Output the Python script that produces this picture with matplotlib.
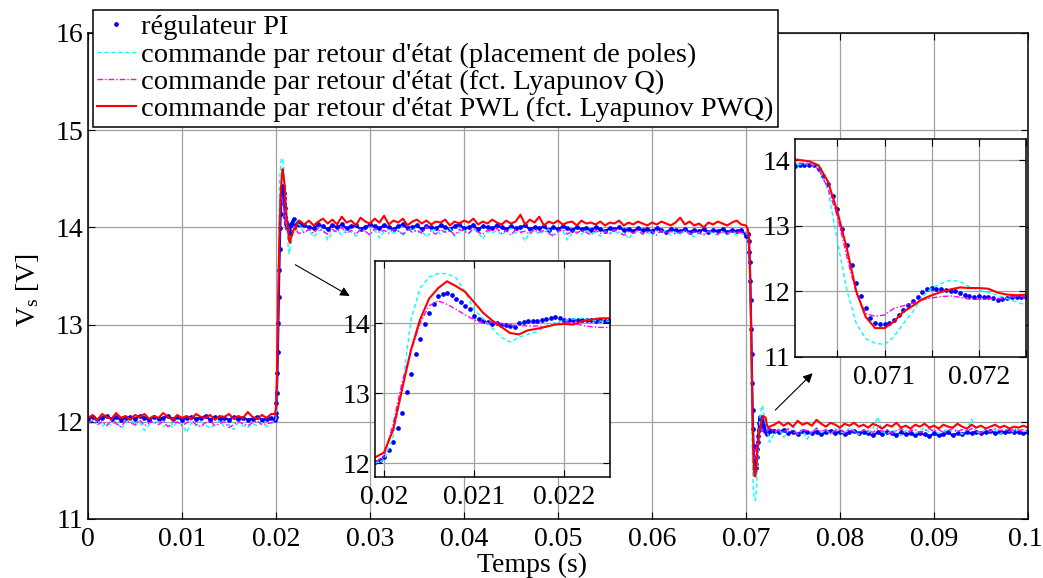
import numpy as np
import matplotlib
matplotlib.use('Agg')
import matplotlib.pyplot as plt
from matplotlib.transforms import ScaledTranslation

plt.rcParams['font.family'] = ['Liberation Serif', 'DejaVu Serif']
plt.rcParams['font.size'] = 20

# ---- data (V) ----
# steady part 0 -> 0.0195 s
pi_a = [12.03, 12.05, 12.02, 12.04, 12.06, 12.03, 12.05, 12.02, 12.04, 12.05, 12.03, 12.06, 12.04, 12.02,
        12.05, 12.03, 12.04, 12.06, 12.03, 12.05, 12.02, 12.04, 12.05, 12.03, 12.04, 12.06, 12.02, 12.05,
        12.03, 12.04, 12.02, 12.05, 12.03, 12.04, 12.02, 12.03, 12.05, 12.02, 12.03, 12.04]
pp_a = [12.00, 11.97, 12.02, 11.95, 11.99, 11.96, 12.01, 11.93, 11.98, 12.03, 11.96, 12.00, 11.91, 11.97,
        11.99, 12.01, 11.95, 11.98, 11.94, 12.00, 11.97, 11.89, 11.99, 11.96, 12.00, 11.97, 11.93, 11.98,
        12.01, 11.95, 11.97, 11.92, 11.99, 11.96, 11.94, 11.98, 11.96, 11.99, 11.95, 11.98]
lq_a = [11.99, 12.01, 11.97, 12.00, 11.96, 12.02, 11.98, 11.95, 12.01, 11.99, 11.97, 12.02, 11.96, 11.99,
        12.00, 11.97, 12.01, 11.95, 11.98, 12.00, 11.96, 11.99, 12.02, 11.97, 11.95, 11.99, 12.01, 11.96,
        11.98, 12.00, 11.94, 11.97, 12.00, 11.98, 11.96, 11.99, 12.01, 11.97, 11.98, 11.99]
pwl_a = [12.04, 12.07, 12.02, 12.08, 12.05, 12.03, 12.09, 12.04, 12.06, 12.02, 12.07, 12.05, 12.08, 12.03,
         12.06, 12.04, 12.09, 12.05, 12.02, 12.07, 12.04, 12.06, 12.03, 12.08, 12.05, 12.04, 12.07, 12.02,
         12.06, 12.05, 12.08, 12.03, 12.06, 12.04, 12.10, 12.05, 12.03, 12.07, 12.04, 12.08]

# step up, 0.0199 -> 0.0225 s (PI sampled every 50 us, others every 100 us)
pi_up = [12.02, 12.05, 12.09, 12.19, 12.30, 12.50, 12.72, 13.02, 13.28, 13.56, 13.78, 13.99, 14.14, 14.28,
         14.39, 14.42, 14.43, 14.40, 14.35, 14.30, 14.24, 14.20, 14.11, 14.06, 14.03, 14.02, 13.99, 14.00,
         13.98, 13.97, 13.96, 13.94, 14.01, 14.02, 14.03, 14.03, 14.03, 14.04, 14.06, 14.07, 14.09, 14.07,
         14.05, 14.05, 14.04, 14.04, 14.04, 14.04, 14.04, 14.03, 14.04, 14.03, 14.03]
pp_up = [12.00, 12.04, 12.38, 13.04, 14.05, 14.50, 14.66, 14.71, 14.71, 14.65, 14.45, 14.20, 14.07, 13.93,
         13.80, 13.73, 13.80, 13.84, 13.88, 13.96, 14.01, 14.04, 14.06, 14.07, 14.04, 14.03, 14.03]
lq_up = [12.01, 12.10, 12.55, 13.15, 13.60, 14.00, 14.25, 14.32, 14.27, 14.20, 14.12, 14.05, 14.00, 14.02,
         14.00, 13.97, 13.97, 13.96, 13.96, 13.95, 13.98, 14.02, 14.00, 13.97, 13.95, 13.94, 13.94]
pwl_up = [12.08, 12.15, 12.47, 13.05, 13.62, 14.05, 14.35, 14.50, 14.60, 14.53, 14.45, 14.30, 14.15, 14.04,
          13.95, 13.86, 13.84, 13.90, 13.92, 13.95, 13.98, 13.99, 13.98, 14.03, 14.05, 14.07, 14.07]

# steady part 0.023 -> 0.0695 s
pi_b = [14.02, 14.00, 13.99, 14.03, 14.01, 13.98, 14.02, 14.00, 14.03, 13.99, 14.01, 14.02, 13.98, 14.00,
        14.03, 14.01, 13.99, 14.02, 14.00, 13.98, 14.01, 14.03, 13.99, 14.00, 14.02, 13.98, 14.01, 14.00,
        13.99, 14.02, 14.00, 13.98, 14.01, 14.03, 13.99, 14.00, 14.02, 13.98, 14.01, 14.00, 13.99, 14.02,
        14.00, 13.98, 14.01, 13.99, 14.00, 14.02, 13.98, 14.00, 13.99, 14.01, 13.97, 14.00, 13.98, 14.01,
        13.99, 13.97, 14.00, 13.98, 13.99, 13.97, 14.00, 13.98, 13.96, 13.99, 13.98, 14.00, 13.97, 13.98,
        13.96, 13.99, 13.97, 13.98, 13.96, 13.99, 13.97, 13.95, 13.98, 13.97, 13.96, 13.98, 13.95, 13.97,
        13.96, 13.98, 13.95, 13.97, 13.96, 13.98, 13.95, 13.97, 13.96, 13.97]
pp_b = [13.94, 13.98, 13.90, 13.96, 13.99, 13.87, 13.95, 13.97, 13.92, 13.98, 13.95, 13.91, 13.99, 13.96,
        13.93, 13.97, 13.89, 13.96, 13.98, 13.94, 13.97, 13.92, 13.96, 14.00, 13.94, 13.97, 13.90, 13.95,
        13.98, 13.93, 13.96, 13.99, 13.91, 13.95, 13.97, 13.93, 13.98, 13.95, 13.88, 13.96, 13.94, 13.97,
        13.92, 13.96, 13.99, 13.94, 13.96, 13.86, 13.95, 13.97, 13.93, 13.96, 13.98, 13.92, 13.95, 13.97,
        13.87, 13.94, 13.96, 13.93, 13.97, 13.94, 13.95, 13.91, 13.96, 13.94, 13.97, 13.92, 13.95, 13.88,
        13.94, 13.96, 13.93, 13.95, 13.91, 13.96, 13.94, 13.97, 13.92, 13.95, 13.93, 13.96, 13.94, 13.90,
        13.95, 13.93, 13.96, 13.94, 13.92, 13.95, 13.93, 13.95, 13.92, 13.94]
lq_b = [13.95, 13.98, 13.94, 13.99, 13.96, 13.93, 13.98, 13.95, 14.00, 13.94, 13.97, 13.93, 13.98, 13.96,
        13.92, 13.99, 13.95, 13.97, 13.94, 13.98, 13.96, 13.93, 13.99, 13.95, 13.97, 13.94, 14.01, 13.96,
        13.93, 13.98, 13.95, 13.97, 13.92, 13.98, 13.96, 13.94, 13.99, 13.95, 13.93, 13.97, 13.96, 13.99,
        13.94, 13.97, 13.92, 13.98, 13.95, 13.96, 13.93, 13.98, 13.95, 13.97, 13.94, 13.91, 13.96, 13.98,
        13.93, 13.96, 13.94, 13.97, 13.95, 13.92, 13.97, 13.94, 13.96, 13.93, 13.98, 13.95, 13.92, 13.96,
        13.94, 13.97, 13.93, 13.95, 13.96, 13.92, 13.97, 13.94, 13.96, 13.93, 13.95, 13.97, 13.93, 13.96,
        13.94, 13.92, 13.96, 13.95, 13.93, 13.96, 13.94, 13.96, 13.95, 13.95]
pwl_b = [14.03, 14.07, 14.02, 14.06, 14.09, 14.04, 14.08, 14.03, 14.11, 14.05, 14.07, 14.02, 14.10, 14.06,
         14.04, 14.09, 14.05, 14.12, 14.03, 14.07, 14.05, 14.09, 14.02, 14.06, 14.08, 14.04, 14.07, 14.03,
         14.06, 14.05, 14.08, 14.02, 14.06, 14.04, 14.07, 14.05, 14.09, 14.03, 14.06, 14.04, 14.08, 14.05,
         14.03, 14.07, 14.04, 14.06, 14.13, 14.03, 14.08, 14.05, 14.11, 14.02, 14.06, 14.04, 14.07, 14.03,
         14.05, 14.06, 14.02, 14.07, 14.04, 14.05, 14.03, 14.06, 14.02, 14.05, 14.04, 14.07, 14.02, 14.05,
         14.03, 14.06, 14.04, 14.02, 14.05, 14.03, 14.06, 14.04, 14.02, 14.05, 14.10, 14.03, 14.06, 14.02,
         14.04, 14.00, 14.05, 14.03, 14.06, 14.04, 14.02, 14.05, 14.07, 14.03]

# step down, PI 0.07005 -> 0.0725 s, others 0.0700 -> 0.0725 s
pi_down = [13.91, 13.92, 13.92, 13.93, 13.93, 13.86, 13.75, 13.64, 13.45, 13.25, 12.95, 12.70, 12.40, 12.12,
           11.93, 11.75, 11.60, 11.52, 11.50, 11.51, 11.52, 11.57, 11.64, 11.72, 11.79, 11.85, 11.92, 11.99,
           12.03, 12.05, 12.04, 12.03, 12.02, 12.01, 12.00, 11.97, 11.95, 11.93, 11.92, 11.93, 11.92, 11.92,
           11.90, 11.87, 11.89, 11.90, 11.91, 11.92, 11.91, 11.91]
pp_down = [13.92, 13.93, 13.95, 13.90, 13.54, 12.76, 12.02, 11.51, 11.28, 11.21, 11.19, 11.31, 11.51, 11.69,
           11.92, 12.05, 12.12, 12.17, 12.15, 12.07, 12.02, 11.98, 11.94, 11.89, 11.84, 11.79]
lq_down = [13.95, 13.95, 13.95, 13.86, 13.57, 13.14, 12.53, 11.97, 11.66, 11.62, 11.64, 11.74, 11.78, 11.82,
           11.87, 11.90, 11.92, 11.93, 11.91, 11.88, 11.88, 11.89, 11.89, 11.91, 11.92, 11.93]
pwl_down = [14.02, 14.00, 13.98, 13.92, 13.67, 13.21, 12.65, 12.00, 11.61, 11.44, 11.44, 11.54, 11.69, 11.78,
            11.88, 11.94, 11.99, 12.03, 12.06, 12.05, 12.05, 12.04, 11.98, 11.95, 11.94, 11.95]

# steady part 0.073 -> 0.1 s
pi_c = [11.91, 11.89, 11.92, 11.88, 11.90, 11.87, 11.91, 11.89, 11.88, 11.90, 11.87, 11.89, 11.91, 11.88,
        11.90, 11.87, 11.89, 11.91, 11.88, 11.90, 11.88, 11.86, 11.89, 11.87, 11.90, 11.88, 11.86, 11.89,
        11.87, 11.88, 11.86, 11.88, 11.87, 11.85, 11.88, 11.86, 11.87, 11.89, 11.86, 11.88, 11.87, 11.89,
        11.88, 11.90, 11.88, 11.89, 11.91, 11.88, 11.90, 11.89, 11.91, 11.89, 11.90, 11.88, 11.89]
pp_c = [11.88, 11.93, 11.84, 11.91, 11.95, 11.87, 11.92, 11.82, 11.90, 11.94, 11.89, 11.92, 11.87, 11.93,
        11.90, 11.88, 11.94, 11.91, 11.87, 11.92, 11.89, 11.93, 12.05, 11.90, 11.87, 11.92, 11.89, 11.86,
        11.91, 11.93, 11.88, 11.91, 11.94, 11.89, 11.92, 11.88, 11.90, 11.93, 11.89, 11.91, 11.87, 11.92,
        12.03, 11.90, 11.88, 11.93, 11.90, 11.92, 11.87, 11.91, 11.93, 11.89, 11.92, 11.90, 11.91]
lq_c = [11.90, 11.92, 11.89, 11.93, 11.90, 11.88, 11.92, 11.91, 11.89, 11.93, 11.90, 11.92, 11.88, 11.91,
        11.93, 11.89, 11.92, 11.90, 11.88, 11.92, 11.91, 11.89, 11.93, 11.90, 11.92, 11.88, 11.91, 11.93,
        11.89, 11.91, 11.92, 11.89, 11.91, 11.93, 11.90, 11.92, 11.89, 11.91, 11.93, 11.90, 11.92, 11.90,
        11.93, 11.91, 11.89, 11.92, 11.90, 11.93, 11.91, 11.92, 11.90, 11.93, 11.91, 11.92, 11.91]
pwl_c = [11.97, 12.00, 11.96, 11.99, 11.95, 12.01, 11.97, 11.99, 11.96, 12.02, 11.98, 11.95, 11.99, 11.97,
         11.94, 11.98, 11.96, 11.99, 11.95, 11.97, 11.94, 11.98, 11.96, 11.93, 11.97, 11.95, 11.99, 11.94,
         11.96, 11.93, 11.97, 11.95, 11.98, 11.94, 11.96, 11.93, 11.97, 11.95, 11.94, 11.98, 11.95, 11.93,
         11.97, 11.94, 11.96, 11.93, 11.95, 11.97, 11.94, 11.96, 11.93, 11.95, 11.94, 11.96, 11.94]

labels = ['régulateur PI',
          "commande par retour d'état (placement de poles)",
          "commande par retour d'état (fct. Lyapunov Q)",
          "commande par retour d'état PWL (fct. Lyapunov PWQ)"]


def build(a, up, b, down, c, t_up, t_down):
    t = np.concatenate([np.linspace(0, 0.0195, len(a)),
                        np.linspace(t_up, 0.0225, len(up)),
                        np.linspace(0.0230, 0.0695, len(b)),
                        np.linspace(t_down, 0.0725, len(down)),
                        np.linspace(0.0730, 0.1, len(c))])
    return t, np.concatenate([a, up, b, down, c])


series = [build(pi_a, pi_up, pi_b, pi_down, pi_c, 0.0199, 0.07005),
          build(pp_a, pp_up, pp_b, pp_down, pp_c, 0.0199, 0.0700),
          build(lq_a, lq_up, lq_b, lq_down, lq_c, 0.0199, 0.0700),
          build(pwl_a, pwl_up, pwl_b, pwl_down, pwl_c, 0.0199, 0.0700)]
styles = [dict(color='#0000ff', ls='none', marker='o', ms=3.4, mew=0),
          dict(color='#00ffff', ls='--', lw=1.0, dashes=(3, 2)),
          dict(color='#ff00ff', ls='-.', lw=1.0, dashes=(4, 1.5, 1, 1.5)),
          dict(color='#ff0000', ls='-', lw=1.5)]

W, H = 1043, 578
fig = plt.figure(figsize=(W / 100, H / 100), dpi=100)


def px_axes(l, t, r, b):
    return fig.add_axes([l / W, 1 - b / H, (r - l) / W, (b - t) / H])


def style_axes(ax):
    ax.tick_params(direction='in', top=True, right=True, length=5, width=0.8)
    ax.grid(True, color='#a0a0a0', lw=0.9)
    ax.set_axisbelow(True)
    for s in ax.spines.values():
        s.set_linewidth(1.1)


ax = px_axes(88, 33, 1028, 519)
# dense PI samples merge into a band on the full time scale
ax.plot(*series[0], color='#0000ff', lw=1.6, label='_nolegend_')
for (t, v), st, lab in zip(series, styles, labels):
    ax.plot(t, v, label=lab, **st)
ax.set_xlim(0, 0.1)
ax.set_ylim(11, 16)
ax.set_xticks(np.arange(0, 0.101, 0.01))
ax.set_xticklabels(['0', '0.01', '0.02', '0.03', '0.04', '0.05', '0.06', '0.07', '0.08', '0.09', '0.1'])
ax.set_yticks([11, 12, 13, 14, 15, 16])
style_axes(ax)
ax.tick_params(axis='x', pad=6)
# keep the last tick label inside the canvas
last = ax.get_xticklabels()[-1]
last.set_transform(last.get_transform() + ScaledTranslation(-3 / 100, 0, fig.dpi_scale_trans))
ax.set_xlabel('Temps (s)')
ax.xaxis.set_label_coords(0.472, -0.07)
ax.set_ylabel(r'$\mathregular{V_s}$ [V]')
ax.yaxis.set_label_coords(-0.05, 0.47)

leg = ax.legend(loc='upper left', bbox_to_anchor=(93 / W, 1 - 10 / H), bbox_transform=fig.transFigure,
                fancybox=False, framealpha=1, edgecolor='black', borderaxespad=0, borderpad=0.15,
                handlelength=1.35, handletextpad=0.2, labelspacing=0.05, fontsize=20.5)
leg.get_frame().set_linewidth(1.1)

ax.annotate('', xy=(0.0281, 13.28), xytext=(0.0218, 13.63),
            arrowprops=dict(arrowstyle='-|>', color='black', lw=0.8, mutation_scale=14))
ax.annotate('', xy=(0.0773, 12.52), xytext=(0.0729, 12.10),
            arrowprops=dict(arrowstyle='-|>', color='black', lw=0.8, mutation_scale=14))

# zoom on step up
ax1 = px_axes(375, 261, 610, 477)
for (t, v), st in zip(series, styles):
    ax1.plot(t, v, **st)
ax1.set_xlim(0.0199, 0.02251)
ax1.set_ylim(11.8, 14.89)
ax1.set_xticks([0.020, 0.021, 0.022])
ax1.set_xticklabels(['0.02', '0.021', '0.022'])
ax1.set_yticks([12, 13, 14])
style_axes(ax1)
ax1.tick_params(axis='x', pad=6)

# zoom on step down
ax2 = px_axes(795, 139, 1026, 357)
for (t, v), st in zip(series, styles):
    ax2.plot(t, v, **st)
ax2.set_xlim(0.07005, 0.0725)
ax2.set_ylim(11, 14.32)
ax2.set_xticks([0.0705, 0.071, 0.0715, 0.072, 0.0725])
ax2.set_xticklabels(['', '0.071', '', '0.072', ''])
ax2.set_yticks([11, 12, 13, 14])
style_axes(ax2)
ax2.tick_params(axis='x', pad=6)

fig.savefig('out.png', dpi=100)
